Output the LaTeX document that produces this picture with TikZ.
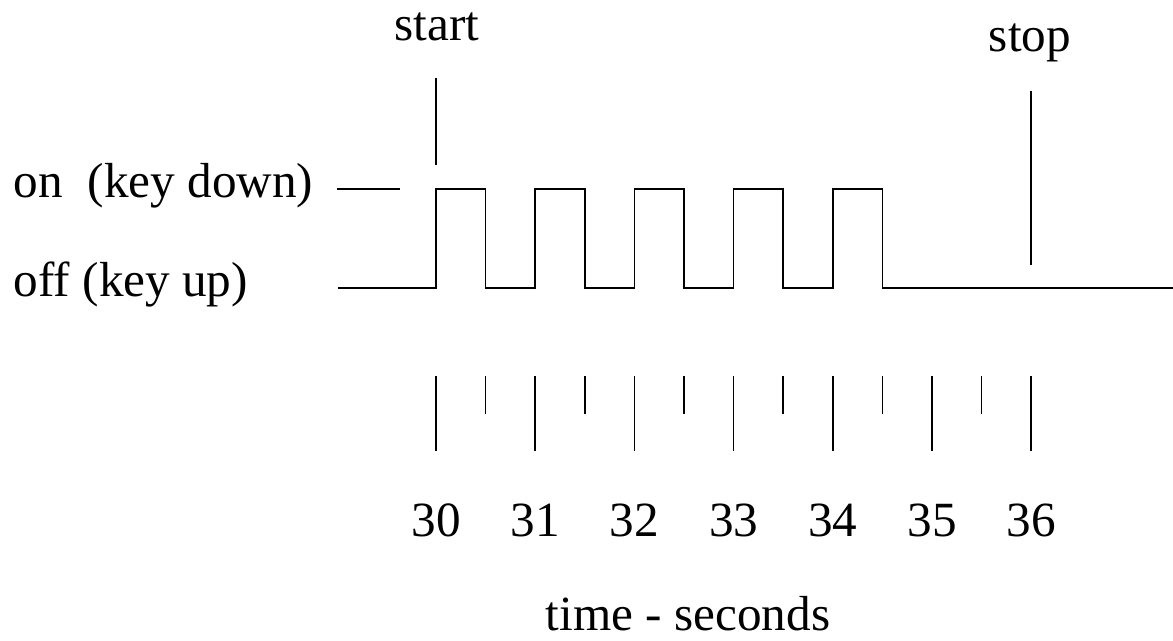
\documentclass[tikz,border=0pt]{standalone}
\usepackage{fontspec}
\setmainfont{Liberation Serif}
\usetikzlibrary{positioning,calc}

\begin{document}
\begin{tikzpicture}[>=latex, line width=1pt,
	lbl/.style={inner sep=0pt, font=\fontsize{28}{34}\selectfont}]
	\useasboundingbox (0,0) rectangle (23.46,12.82);

	\node[lbl,anchor=base] (start) at (8.74,12.0) {start};
	\node[lbl,anchor=base] (stop) at (20.6,11.78) {stop};
	\node[lbl,anchor=base west] (on) at (0.26,8.86) {on~~(key down)};
	\node[lbl,anchor=base west] (off) at (0.26,6.88) {off (key up)};
	\node[lbl,anchor=base] (time) at (13.76,0.2) {time - seconds};

	\coordinate (S1) at (8.72,11.26);
	\coordinate (S2) at (8.72,9.52);
	\coordinate (T1) at (20.624,11.0);
	\coordinate (T2) at (20.624,7.52);

	\draw (6.74,9.04) -- (8.0,9.04);
	\draw (S1) -- (S2);
	\draw (T1) -- (T2);
	\draw (6.76,7.06) foreach \k in {0,...,4} {
		-- ({8.72+1.984*\k},7.06) -- ({8.72+1.984*\k},9.04)
		-- ({9.712+1.984*\k},9.04) -- ({9.712+1.984*\k},7.06)}
		-- (23.5,7.06);

	\foreach \t in {0,...,6} {
		\pgfmathtruncatemacro{\sec}{30+\t}
		\draw ({8.72+1.984*\t},5.30) -- ({8.72+1.984*\t},3.80);
		\node[lbl,anchor=base] (n\t) at ({8.72+1.984*\t},2.08) {\sec};
	}
	\foreach \t in {0,...,5}
		\draw ({9.712+1.984*\t},5.30) -- ({9.712+1.984*\t},4.54);
\end{tikzpicture}
\end{document}
